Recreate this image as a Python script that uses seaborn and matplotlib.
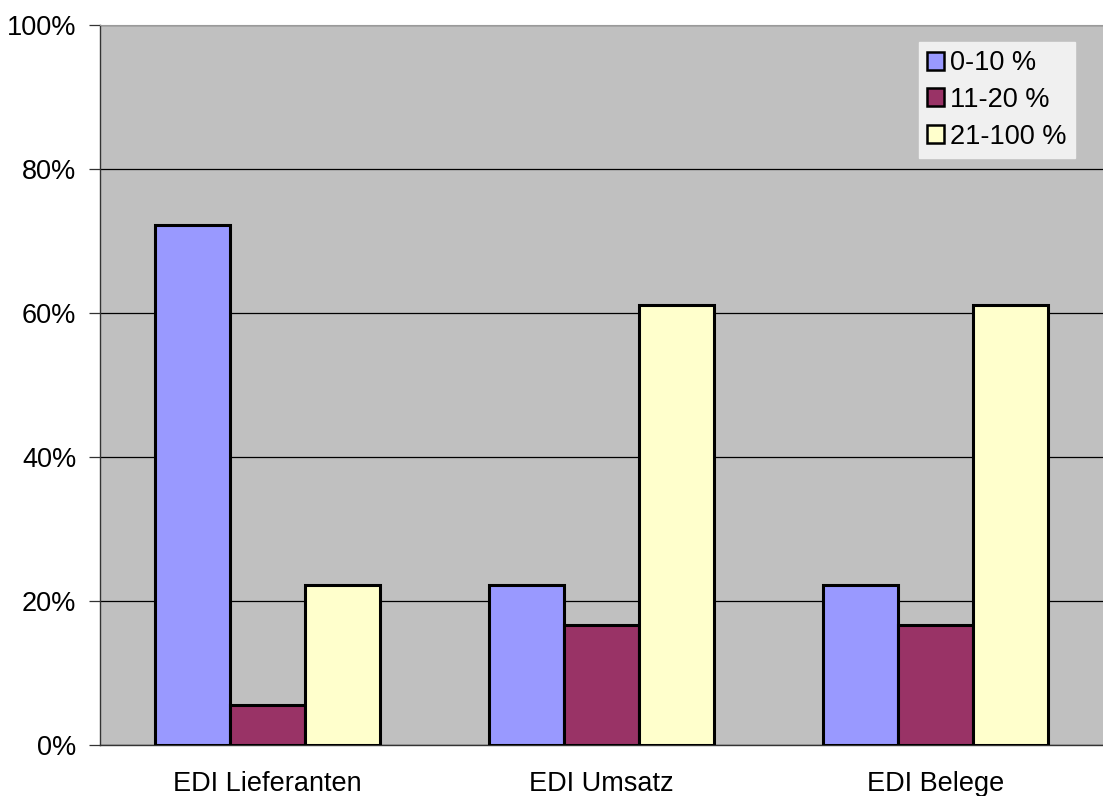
import matplotlib
matplotlib.use("Agg")
import matplotlib.pyplot as plt
import seaborn as sns
import pandas as pd
from matplotlib.ticker import FixedLocator, PercentFormatter

categories = ["EDI Lieferanten", "EDI Umsatz", "EDI Belege"]
series = ["0-10 %", "11-20 %", "21-100 %"]
share_0_10 = [72.2, 22.2, 22.2]
share_11_20 = [5.6, 16.7, 16.7]
share_21_100 = [22.2, 61.1, 61.1]
colors = ["#9999ff", "#993366", "#ffffcc"]

df = pd.DataFrame({
    "Kategorie": categories * 3,
    "Anteil": share_0_10 + share_11_20 + share_21_100,
    "Gruppe": [s for s in series for _ in categories],
})

sns.set_theme(style="white")
plt.rcParams["font.family"] = ["Liberation Sans", "DejaVu Sans"]
plt.rcParams["text.color"] = "black"
plt.rcParams["xtick.color"] = "black"
plt.rcParams["ytick.color"] = "black"
FS = 19.5

fig = plt.figure(figsize=(11.03, 7.96), dpi=100)
ax = fig.add_axes([100 / 1103, 51 / 796, 1003 / 1103, 720 / 796])
ax.set_facecolor("#c0c0c0")

sns.barplot(data=df, x="Kategorie", y="Anteil", hue="Gruppe",
            palette=colors, order=categories, hue_order=series,
            width=0.672, edgecolor="black", linewidth=2.2, saturation=1,
            ax=ax, zorder=3)

ax.set_ylim(0, 100)
ax.set_xlim(-0.5, 2.5)
ax.yaxis.set_major_locator(FixedLocator([0, 20, 40, 60, 80, 100]))
ax.yaxis.set_major_formatter(PercentFormatter(decimals=0))
ax.grid(axis="y", color="black", linewidth=0.9, zorder=1)
ax.set_axisbelow(True)
ax.set_xlabel("")
ax.set_ylabel("")

# category labels centred, tick marks between categories
ax.set_xticks([0, 1, 2])
ax.set_xticklabels(categories)
ax.tick_params(axis="x", length=0, pad=18.5, labelsize=FS, labelcolor="black")
ax.set_xticks([-0.5, 0.5, 1.5, 2.5], minor=True)
ax.tick_params(axis="x", which="minor", length=8, width=0.9, color="#333333", direction="out")
ax.tick_params(axis="y", length=8, width=0.9, color="#333333", direction="out",
               labelsize=FS, pad=9, left=True, labelcolor="black")

for side in ["left", "bottom"]:
    ax.spines[side].set_color("#333333")
    ax.spines[side].set_linewidth(1.0)
ax.spines["right"].set_visible(False)
ax.spines["top"].set_color("#9a9a9a")
ax.spines["top"].set_linewidth(0.8)

leg = ax.legend(loc="upper right", bbox_to_anchor=(975 / 1003, 1 - 17 / 720),
                frameon=True, fontsize=FS, handlelength=0.65, handleheight=0.65,
                handletextpad=0.22, labelspacing=0.4, borderpad=0.3,
                fancybox=False, borderaxespad=0)
leg.get_frame().set_facecolor("#f0f0f0")
leg.get_frame().set_edgecolor("#f0f0f0")
leg.get_frame().set_alpha(1)
for t in leg.get_texts():
    t.set_color("black")
for h in leg.legend_handles:
    h.set_edgecolor("black")
    h.set_linewidth(1.8)

fig.savefig("out.png", dpi=100, facecolor="white")
